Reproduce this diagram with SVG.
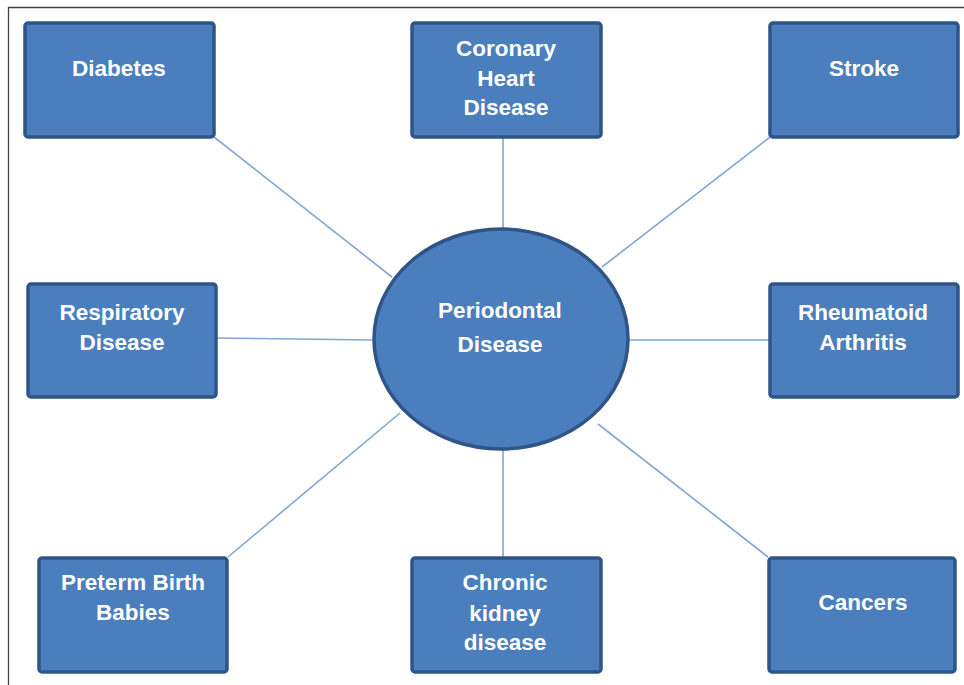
<svg xmlns="http://www.w3.org/2000/svg" width="964" height="685" viewBox="0 0 964 685">
<style>
.box{fill:#4a7ebd;stroke:#2f5586;stroke-width:3.5}
.lbl{font-family:"Liberation Sans",Arial,sans-serif;font-weight:bold;font-size:22.5px;fill:#ffffff;text-anchor:middle}
.con line{stroke:#80a6d6;stroke-width:1.6}
</style>
<rect x="0" y="0" width="964" height="685" fill="#ffffff"/>
<path d="M8.5 700 V7.5 H980" fill="none" stroke="#444" stroke-width="1.3"/>
<g id="connectors" class="con">
<line x1="214" y1="137" x2="392" y2="277"/>
<line x1="503" y1="138" x2="503" y2="228"/>
<line x1="770" y1="137" x2="602" y2="267"/>
<line x1="217" y1="338" x2="374" y2="340"/>
<line x1="629" y1="340" x2="769" y2="340"/>
<line x1="228" y1="557" x2="400" y2="413"/>
<line x1="503" y1="450" x2="503" y2="557"/>
<line x1="768" y1="557" x2="598" y2="424"/>
</g>
<g id="diabetes"><rect class="box" x="25" y="23" width="189" height="114" rx="3"/><text class="lbl" x="119" y="76">Diabetes</text></g>
<g id="coronary"><rect class="box" x="412" y="23" width="189" height="114" rx="3"/><text class="lbl" x="506" y="56">Coronary</text><text class="lbl" x="506" y="86">Heart</text><text class="lbl" x="506" y="115">Disease</text></g>
<g id="stroke"><rect class="box" x="770" y="23" width="188" height="114" rx="3"/><text class="lbl" x="864" y="76">Stroke</text></g>
<g id="respiratory"><rect class="box" x="28" y="284" width="188" height="113" rx="3"/><text class="lbl" x="122" y="320">Respiratory</text><text class="lbl" x="122" y="350">Disease</text></g>
<g id="periodontal"><ellipse cx="501" cy="339" rx="127" ry="110" fill="#4a7ebd" stroke="#2f5586" stroke-width="3.5"/><text class="lbl" x="500" y="318">Periodontal</text><text class="lbl" x="500" y="352">Disease</text></g>
<g id="rheumatoid"><rect class="box" x="770" y="284" width="188" height="113" rx="3"/><text class="lbl" x="863" y="320">Rheumatoid</text><text class="lbl" x="863" y="350">Arthritis</text></g>
<g id="preterm"><rect class="box" x="39" y="558" width="188" height="114" rx="3"/><text class="lbl" x="133" y="590">Preterm Birth</text><text class="lbl" x="133" y="620">Babies</text></g>
<g id="chronic"><rect class="box" x="412" y="558" width="189" height="114" rx="3"/><text class="lbl" x="505" y="590">Chronic</text><text class="lbl" x="505" y="621">kidney</text><text class="lbl" x="505" y="650">disease</text></g>
<g id="cancers"><rect class="box" x="769" y="558" width="186" height="114" rx="3"/><text class="lbl" x="863" y="610">Cancers</text></g>
</svg>
